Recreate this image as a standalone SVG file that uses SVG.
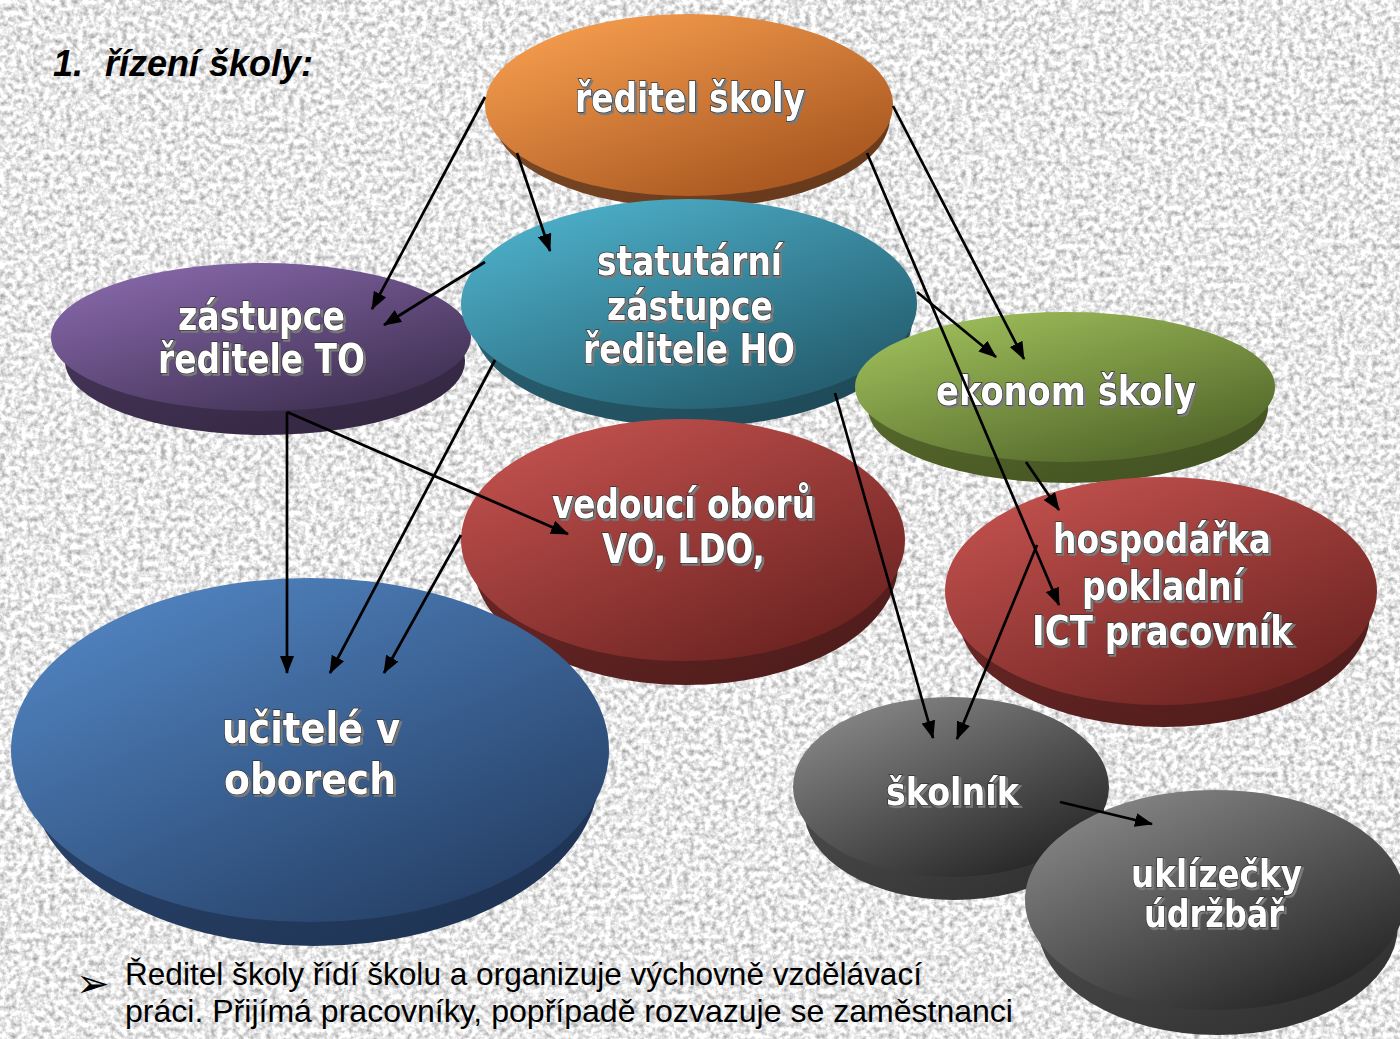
<svg xmlns="http://www.w3.org/2000/svg" width="1400" height="1039" viewBox="0 0 1400 1039">
<defs>
<style>
.lbl{font-family:"DejaVu Sans",Verdana,sans-serif;font-weight:bold;fill:#fff;stroke:#333333;stroke-width:1.5px;paint-order:stroke fill;filter:url(#sh);}
.con{fill:none;stroke:#000;stroke-width:2.7;marker-end:url(#ah);}
.title{font-family:"Liberation Sans",Arial,sans-serif;font-weight:bold;font-style:italic;font-size:36px;fill:#000;}
.body{font-family:"Liberation Sans",Arial,sans-serif;font-size:31.5px;fill:#000;}
.bul{font-family:"DejaVu Sans",sans-serif;font-size:40px;fill:#000;}
</style>
<filter id="grain" filterUnits="userSpaceOnUse" x="0" y="0" width="1400" height="1039" color-interpolation-filters="sRGB">
<feTurbulence type="fractalNoise" baseFrequency="0.18" numOctaves="4" seed="5"/>
<feColorMatrix type="matrix" values="0.7 0 0 0 0.56  0.7 0 0 0 0.56  0.7 0 0 0 0.56  0 0 0 0 1"/>
</filter>
<filter id="sh" x="-10%" y="-30%" width="125%" height="170%">
<feDropShadow dx="2" dy="2" stdDeviation="0.4" flood-color="#7a7a7a" flood-opacity="1"/>
</filter>
<marker id="ah" markerUnits="userSpaceOnUse" viewBox="0 0 18 14" markerWidth="18" markerHeight="14" refX="17" refY="7" orient="auto">
<path d="M0,0 L18,7 L0,14 Z" fill="#000"/>
</marker>
<linearGradient id="gOr" x1="0.15" y1="0.05" x2="0.85" y2="0.95"><stop offset="0" stop-color="#F59D4E"/><stop offset="1" stop-color="#A5531E"/></linearGradient>
<linearGradient id="sOr" x1="0" y1="0" x2="1" y2="1"><stop offset="0" stop-color="#86502A"/><stop offset="1" stop-color="#63371A"/></linearGradient>
<linearGradient id="gTe" x1="0.15" y1="0.05" x2="0.85" y2="0.95"><stop offset="0" stop-color="#4DB0CA"/><stop offset="1" stop-color="#22596A"/></linearGradient>
<linearGradient id="sTe" x1="0" y1="0" x2="1" y2="1"><stop offset="0" stop-color="#2E6C7E"/><stop offset="1" stop-color="#1D4452"/></linearGradient>
<linearGradient id="gPu" x1="0.15" y1="0.05" x2="0.85" y2="0.95"><stop offset="0" stop-color="#8667A9"/><stop offset="1" stop-color="#3E2F50"/></linearGradient>
<linearGradient id="sPu" x1="0" y1="0" x2="1" y2="1"><stop offset="0" stop-color="#4A385E"/><stop offset="1" stop-color="#31253E"/></linearGradient>
<linearGradient id="gGr" x1="0.15" y1="0.05" x2="0.85" y2="0.95"><stop offset="0" stop-color="#9EBE5A"/><stop offset="1" stop-color="#4F6328"/></linearGradient>
<linearGradient id="sGr" x1="0" y1="0" x2="1" y2="1"><stop offset="0" stop-color="#5E722E"/><stop offset="1" stop-color="#3F4E21"/></linearGradient>
<linearGradient id="gRe" x1="0.15" y1="0.05" x2="0.85" y2="0.95"><stop offset="0" stop-color="#C2514E"/><stop offset="1" stop-color="#6A2220"/></linearGradient>
<linearGradient id="sRe" x1="0" y1="0" x2="1" y2="1"><stop offset="0" stop-color="#722A28"/><stop offset="1" stop-color="#4B1B1A"/></linearGradient>
<linearGradient id="gBl" x1="0.15" y1="0.05" x2="0.85" y2="0.95"><stop offset="0" stop-color="#5184C1"/><stop offset="1" stop-color="#243E64"/></linearGradient>
<linearGradient id="sBl" x1="0" y1="0" x2="1" y2="1"><stop offset="0" stop-color="#2E4A74"/><stop offset="1" stop-color="#1D3150"/></linearGradient>
<linearGradient id="gGy" x1="0.15" y1="0.05" x2="0.85" y2="0.95"><stop offset="0" stop-color="#878787"/><stop offset="1" stop-color="#232323"/></linearGradient>
<linearGradient id="sGy" x1="0" y1="0" x2="1" y2="1"><stop offset="0" stop-color="#555555"/><stop offset="1" stop-color="#2C2C2C"/></linearGradient>
</defs>

<rect x="0" y="0" width="1400" height="1039" fill="#e6e6e6" filter="url(#grain)"/>

<text class="title"><tspan x="53" y="76">1.</tspan><tspan x="105" y="76">řízení školy:</tspan></text>

<g id="node-reditel">
<ellipse cx="692" cy="117" rx="198" ry="91" fill="url(#sOr)"/>
<ellipse cx="689" cy="105" rx="204" ry="91" fill="url(#gOr)"/>
<text class="lbl" x="575" y="112" font-size="40" textLength="230" lengthAdjust="spacingAndGlyphs">ředitel školy</text>
</g>

<g id="node-zastupce-to">
<ellipse cx="265" cy="361" rx="200" ry="74" fill="url(#sPu)"/>
<ellipse cx="261" cy="337" rx="210" ry="74" fill="url(#gPu)"/>
<text class="lbl" font-size="40"><tspan x="178" y="330" textLength="167" lengthAdjust="spacingAndGlyphs">zástupce</tspan><tspan x="158" y="373" textLength="207" lengthAdjust="spacingAndGlyphs">ředitele TO</tspan></text>
</g>

<g id="node-statutarni">
<ellipse cx="692" cy="320" rx="220" ry="107" fill="url(#sTe)"/>
<ellipse cx="689" cy="304" rx="228" ry="105" fill="url(#gTe)"/>
<text class="lbl" font-size="40"><tspan x="597" y="275" textLength="185" lengthAdjust="spacingAndGlyphs">statutární</tspan><tspan x="607" y="320" textLength="166" lengthAdjust="spacingAndGlyphs">zástupce</tspan><tspan x="583" y="363" textLength="212" lengthAdjust="spacingAndGlyphs">ředitele HO</tspan></text>
</g>

<g id="node-ekonom">
<ellipse cx="1068" cy="408" rx="200" ry="75" fill="url(#sGr)"/>
<ellipse cx="1065" cy="387" rx="210" ry="75" fill="url(#gGr)"/>
<text class="lbl" x="936" y="405" font-size="40" textLength="260" lengthAdjust="spacingAndGlyphs">ekonom školy</text>
</g>

<g id="node-vedouci">
<ellipse cx="686" cy="564" rx="212" ry="121" fill="url(#sRe)"/>
<ellipse cx="683" cy="540" rx="222" ry="121" fill="url(#gRe)"/>
<text class="lbl" font-size="40"><tspan x="552" y="518" textLength="263" lengthAdjust="spacingAndGlyphs">vedoucí oborů</tspan><tspan x="602" y="563" textLength="163" lengthAdjust="spacingAndGlyphs">VO, LDO,</tspan></text>
</g>

<g id="node-ucitele">
<ellipse cx="314" cy="774" rx="285" ry="172" fill="url(#sBl)"/>
<ellipse cx="310" cy="750" rx="299" ry="172" fill="url(#gBl)"/>
<text class="lbl" font-size="43"><tspan x="222" y="743" textLength="178" lengthAdjust="spacingAndGlyphs">učitelé v</tspan><tspan x="224" y="794" textLength="172" lengthAdjust="spacingAndGlyphs">oborech</tspan></text>
</g>

<g id="node-hospodarka">
<ellipse cx="1164" cy="613" rx="206" ry="114" fill="url(#sRe)"/>
<ellipse cx="1161" cy="591" rx="216" ry="114" fill="url(#gRe)"/>
<text class="lbl" font-size="40"><tspan x="1053" y="553" textLength="218" lengthAdjust="spacingAndGlyphs">hospodářka</tspan><tspan x="1082" y="600" textLength="161" lengthAdjust="spacingAndGlyphs">pokladní</tspan><tspan x="1032" y="645" textLength="261" lengthAdjust="spacingAndGlyphs">ICT pracovník</tspan></text>
</g>

<g id="node-skolnik">
<ellipse cx="954" cy="810" rx="150" ry="90" fill="url(#sGy)"/>
<ellipse cx="951" cy="787" rx="158" ry="90" fill="url(#gGy)"/>
<text class="lbl" x="886" y="805" font-size="37" textLength="133" lengthAdjust="spacingAndGlyphs">školník</text>
</g>

<g id="node-uklizecky">
<ellipse cx="1218" cy="925" rx="180" ry="110" fill="url(#sGy)"/>
<ellipse cx="1215" cy="900" rx="190" ry="110" fill="url(#gGy)"/>
<text class="lbl" font-size="37"><tspan x="1131" y="887" textLength="171" lengthAdjust="spacingAndGlyphs">uklízečky</tspan><tspan x="1144" y="927" textLength="140" lengthAdjust="spacingAndGlyphs">údržbář</tspan></text>
</g>

<g id="connectors">
<line class="con" x1="485" y1="97" x2="372" y2="309"/>
<line class="con" x1="485" y1="262" x2="384" y2="325"/>
<line class="con" x1="517" y1="153" x2="550" y2="251"/>
<line class="con" x1="893" y1="106" x2="1024" y2="359"/>
<line class="con" x1="867" y1="153" x2="1059" y2="605"/>
<line class="con" x1="917" y1="292" x2="996" y2="357"/>
<line class="con" x1="835" y1="393" x2="933" y2="738"/>
<line class="con" x1="1026" y1="462" x2="1059" y2="510"/>
<line class="con" x1="1037" y1="545" x2="957" y2="739"/>
<line class="con" x1="287" y1="412" x2="287" y2="673"/>
<line class="con" x1="287" y1="412" x2="568" y2="534"/>
<line class="con" x1="495" y1="360" x2="330" y2="673"/>
<line class="con" x1="461" y1="535" x2="384" y2="673"/>
<line class="con" x1="1060" y1="802" x2="1152" y2="824"/>
</g>

<text class="bul" x="76" y="997">➢</text>
<text class="body"><tspan x="125" y="985" textLength="797" lengthAdjust="spacingAndGlyphs">Ředitel školy řídí školu a organizuje výchovně vzdělávací</tspan><tspan x="125" y="1022" textLength="888" lengthAdjust="spacingAndGlyphs">práci. Přijímá pracovníky, popřípadě rozvazuje se zaměstnanci</tspan></text>
</svg>
